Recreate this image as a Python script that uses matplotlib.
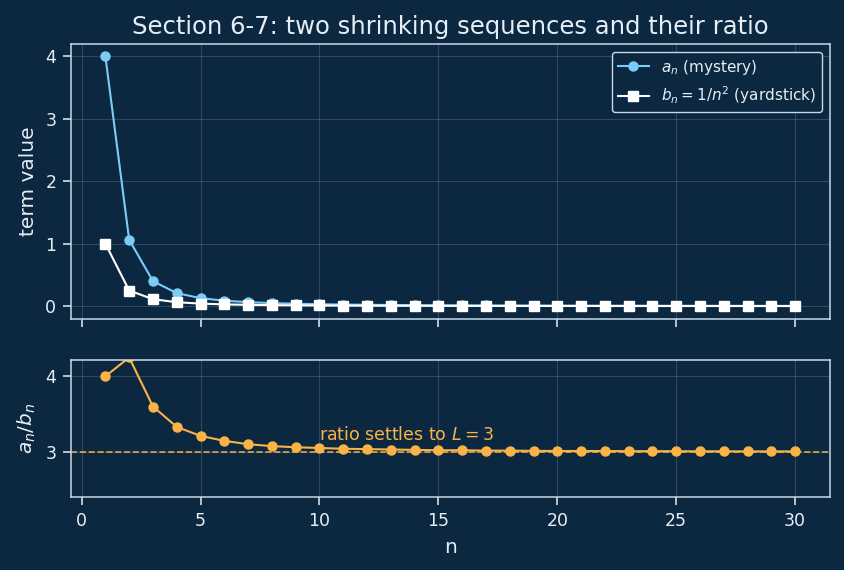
import numpy as np
import matplotlib
matplotlib.use("Agg")
import matplotlib.pyplot as plt

plt.rcParams['font.family'] = ['DejaVu Sans']
plt.rcParams['mathtext.fontset'] = 'dejavusans'

# data
n = list(range(1, 31))
a_n = [4.0, 1.0625, 0.40, 0.208, 0.128, 0.087, 0.063, 0.048, 0.038, 0.0305,
       0.0251, 0.0211, 0.0179, 0.0154, 0.0134, 0.0118, 0.0104, 0.0093, 0.0083, 0.0075,
       0.0068, 0.0062, 0.0057, 0.0052, 0.0048, 0.0045, 0.0041, 0.0038, 0.0036, 0.0033]
b_n = [1.0, 0.25, 0.111, 0.0625, 0.04, 0.0278, 0.0204, 0.0156, 0.0123, 0.01,
       0.0083, 0.0069, 0.0059, 0.0051, 0.0044, 0.0039, 0.0035, 0.0031, 0.0028, 0.0025,
       0.0023, 0.0021, 0.0019, 0.0017, 0.0016, 0.0015, 0.0014, 0.0013, 0.0012, 0.0011]
ratio = [4.0, 4.25, 3.6, 3.33, 3.21, 3.145, 3.10, 3.075, 3.06, 3.05,
         3.04, 3.035, 3.03, 3.025, 3.02, 3.02, 3.015, 3.015, 3.012, 3.01,
         3.01, 3.01, 3.008, 3.008, 3.007, 3.006, 3.006, 3.005, 3.005, 3.005]
L = 3

bg = '#0c2740'
fg = '#e6eef5'
blue = '#79cdf7'
orange = '#f9b347'

fig, (ax1, ax2) = plt.subplots(2, 1, sharex=True, figsize=(8.44, 5.7), dpi=100,
                               gridspec_kw={'height_ratios': [2, 1]})
fig.patch.set_facecolor(bg)
fig.subplots_adjust(left=0.084, right=0.983, top=0.923, bottom=0.128, hspace=0.2)

for ax in (ax1, ax2):
    ax.set_facecolor(bg)
    for s in ax.spines.values():
        s.set_color('#c9d9e8')
        s.set_linewidth(1.1)
    ax.tick_params(colors=fg, labelsize=12.5, length=6, width=1.1, pad=4.5)
    ax.grid(True, color='white', alpha=0.15, linewidth=0.8)

ax1.plot(n, a_n, '-o', color=blue, markersize=6.5, linewidth=1.5, label=r'$a_n$ (mystery)')
ax1.plot(n, b_n, '-s', color='white', markersize=6.5, linewidth=1.5,
         label=r'$b_n = 1/n^2$ (yardstick)')
ax1.set_ylabel('term value', color=fg, fontsize=14.5, labelpad=5)
ax1.set_title('Section 6-7: two shrinking sequences and their ratio', color=fg,
              fontsize=17.5, pad=7)
ax1.set_yticks([0, 1, 2, 3, 4])
leg = ax1.legend(loc='upper right', fontsize=11, facecolor=bg, edgecolor='#c9d9e8',
                 framealpha=1, labelcolor=fg)

ax2.plot(n, ratio, '-o', color=orange, markersize=6.5, linewidth=1.5)
ax2.axhline(L, color=orange, linestyle='--', linewidth=1.2, alpha=0.9)
ax2.text(10, 3.1, 'ratio settles to $L = 3$', color=orange, fontsize=12.5, va='bottom')
ax2.set_ylim(2.4, 4.22)
ax2.set_yticks([3, 4])
ax2.set_ylabel(r'$a_n/b_n$', color=fg, fontsize=14.5, labelpad=5)
ax2.set_xlabel('n', color=fg, fontsize=14.5, labelpad=6)
ax2.set_xticks([0, 5, 10, 15, 20, 25, 30])

fig.savefig('out.png', facecolor=bg)
